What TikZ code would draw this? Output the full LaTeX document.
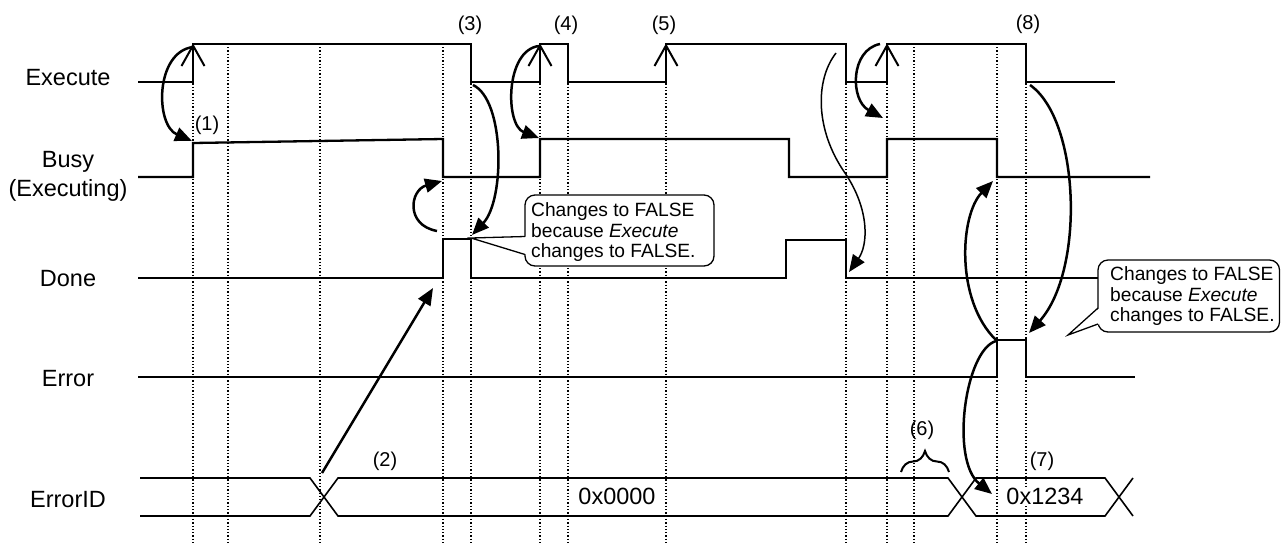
\documentclass[tikz,border=0pt]{standalone}
\usepackage{fontspec}
\setmainfont{Liberation Sans}
\usetikzlibrary{arrows.meta,decorations.pathreplacing}
\begin{document}
\begin{tikzpicture}[x=1pt,y=-1pt,
  sig/.style={line width=2.3pt, line join=miter},
  bus/.style={line width=1.6pt},
  gridline/.style={line width=1.3pt, dash pattern=on 1.3pt off 2pt},
  cause/.style={line width=2.5pt, -{Triangle[length=17pt,width=14pt]}},
  thincause/.style={line width=1.5pt, -{Triangle[length=17pt,width=14pt]}},
  risemark/.style={line width=2pt, line join=miter},
  lbl/.style={font=\fontsize{23.5}{28.5}\selectfont, inner sep=0pt},
  num/.style={font=\fontsize{20}{22}\selectfont, inner sep=0pt},
  val/.style={font=\fontsize{23.5}{26}\selectfont, inner sep=1.5pt, fill=white},
  notebox/.style={draw, fill=white, line width=1.3pt, rounded corners=10pt, inner sep=0pt},
  notetext/.style={font=\fontsize{19.2}{20.6}\selectfont, align=left, inner sep=0pt, anchor=north west},
  wedge/.style={line width=1.3pt, line join=miter}
]
\useasboundingbox (0,0) rectangle (1281,547);

% time grid
\foreach \gx in {193,228,320,443,471,540,568,666,846,887,914,997,1026}
  \draw[gridline] (\gx,47) -- (\gx,544);

% row labels
\node[lbl, anchor=base] (lexec) at (68,85) {Execute};
\node[lbl, anchor=north, align=center] (lbusy) at (68,151.5) {Busy\\(Executing)};
\node[lbl, anchor=base] (ldone) at (68,286) {Done};
\node[lbl, anchor=base] (lerr) at (68,386) {Error};
\node[lbl, anchor=base] (lerrid) at (68,507) {ErrorID};

% Execute
\draw[sig] (138,82) -- (193,82) -- (193,44) -- (471,44) -- (471,82) -- (540,82) -- (540,44)
  -- (568,44) -- (568,82) -- (666,82) -- (666,44) -- (846,44) -- (846,82) -- (887,82)
  -- (887,44) -- (1026,44) -- (1026,82) -- (1115,82);
% rising edge marks
\foreach \rx in {193,540,666,887}
  \draw[risemark] (\rx-11.5,66) -- (\rx,45.5) -- (\rx+11.5,66);

% Busy
\draw[sig] (138,177) -- (193,177) -- (193,143) -- (443,139) -- (443,177) -- (540,177) -- (540,139)
  -- (789,139) -- (789,177) -- (887,177) -- (887,139) -- (997,139) -- (997,177) -- (1150,177);

% Done
\draw[sig] (138,278) -- (443,278) -- (443,239) -- (471,239) -- (471,278) -- (786,278) -- (786,240)
  -- (846,240) -- (846,278) -- (1098,278);

% Error
\draw[sig] (138,377) -- (997,377) -- (997,340) -- (1026,340) -- (1026,377) -- (1135,377);

% ErrorID bus
\draw[bus] (140,478) -- (310,478) -- (338,516) -- (948,516) -- (976,478) -- (1105,478) -- (1133,516);
\draw[bus] (140,516) -- (310,516) -- (338,478) -- (948,478) -- (976,516) -- (1105,516) -- (1133,478);
\node[val] (v0) at (617,496.5) {0x0000};
\node[val] (v1) at (1045,496.5) {0x1234};

% step numbers
\node[num] (n1) at (207,125) {(1)};
\node[num] (n2) at (385,461) {(2)};
\node[num] (n3) at (470,25) {(3)};
\node[num] (n4) at (566,25) {(4)};
\node[num] (n5) at (664,25) {(5)};
\node[num] (n6) at (922,430) {(6)};
\node[num] (n7) at (1042,461) {(7)};
\node[num] (n8) at (1028,24) {(8)};
\draw[line width=2pt, decorate, decoration={brace, amplitude=21pt}] (901,472) -- (949,472);

% cause/effect arrows
\coordinate (a1s) at (193,47);   \coordinate (a1e) at (192,141);
\coordinate (a2s) at (437,231);  \coordinate (a2e) at (442,181);
\coordinate (a3s) at (473,85);   \coordinate (a3e) at (472,235);
\coordinate (a4s) at (539,46);   \coordinate (a4e) at (539,138);
\coordinate (a5s) at (836,53);   \coordinate (a5m) at (845,173); \coordinate (a5e) at (849,272);
\coordinate (a6s) at (880,44);   \coordinate (a6e) at (883,118);
\coordinate (a7s) at (996,340);  \coordinate (a7e) at (993,181);
\coordinate (a8s) at (1030,85);  \coordinate (a8e) at (1029,333);
\coordinate (a9s) at (996,341);  \coordinate (a9e) at (992,494);
\coordinate (a10s) at (322,473); \coordinate (a10e) at (433,288);

\draw[cause] (a1s) .. controls (155,52) and (155,125) .. (a1e);
\draw[cause] (a2s) .. controls (405,225) and (410,190) .. (a2e);
\draw[cause] (a3s) .. controls (505,100) and (505,200) .. (a3e);
\draw[cause] (a4s) .. controls (505,50) and (505,125) .. (a4e);
\draw[thincause] (a5s) .. controls (815,80) and (815,130) .. (a5m) .. controls (870,210) and (868,245) .. (a5e);
\draw[cause] (a6s) .. controls (850,50) and (850,100) .. (a6e);
\draw[cause] (a7s) .. controls (955,300) and (960,215) .. (a7e);
\draw[cause] (a8s) .. controls (1080,120) and (1085,270) .. (a8e);
\draw[cause] (a9s) .. controls (965,350) and (950,460) .. (a9e);
\draw[cause] (a10s) -- (a10e);

% callout 1
\node[notebox, minimum width=189pt, minimum height=71pt] (c1) at (619.5,230.5) {};
\node[notetext] (c1t) at (531,202.5) {Changes to FALSE\\because \textit{Execute}\\changes to FALSE.};
\coordinate (c1tip) at (471,238);
\fill[white] (526.5,236.5) -- (c1tip) -- (526.5,254.5) -- cycle;
\draw[wedge] (525,236.5) -- (c1tip) -- (525,254.5);

% callout 2
\node[notebox, minimum width=181.5pt, minimum height=72pt] (c2) at (1188.75,296) {};
\node[notetext] (c2t) at (1110,266.5) {Changes to FALSE\\because \textit{Execute}\\changes to FALSE.};
\coordinate (c2tip) at (1068,335);
\fill[white] (1099.5,308) -- (c2tip) -- (1099.5,324) -- cycle;
\draw[wedge] (1098,308) -- (c2tip) -- (1098,324);
\end{tikzpicture}
\end{document}
